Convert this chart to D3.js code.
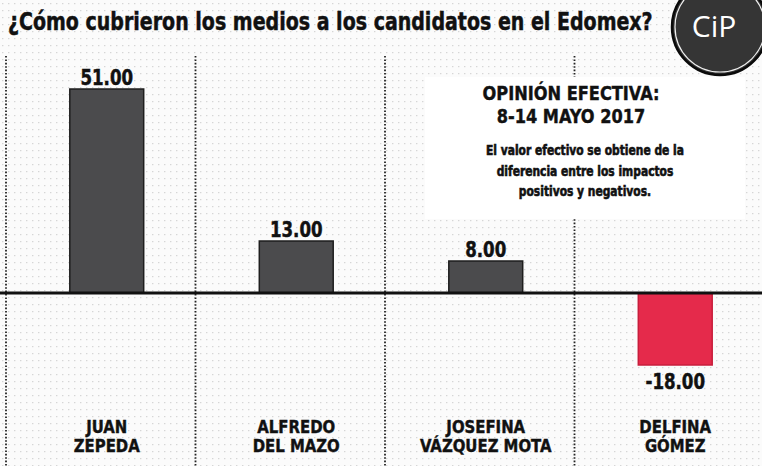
<!DOCTYPE html>
<html><head><meta charset="utf-8">
<script src="https://cdn.jsdelivr.net/npm/d3@7"></script>
<style>
html,body{margin:0;padding:0;background:#fff;}
svg{display:block;}
.cond{font-family:"Liberation Sans Narrow","DejaVu Sans Condensed","Roboto",sans-serif;font-weight:bold;}
</style></head>
<body>
<svg id="chart" width="762" height="466"></svg>
<script>
const categories = ["JUAN ZEPEDA","ALFREDO DEL MAZO","JOSEFINA VÁZQUEZ MOTA","DELFINA GÓMEZ"];
const labelLine1 = ["JUAN","ALFREDO","JOSEFINA","DELFINA"];
const labelLine2 = ["ZEPEDA","DEL MAZO","VÁZQUEZ MOTA","GÓMEZ"];
const values = [51, 13, 8, -18];
const title = "¿Cómo cubrieron los medios a los candidatos en el Edomex?";
const noteTitle = ["OPINIÓN EFECTIVA:", "8-14 MAYO 2017"];
const noteBody = ["El valor efectivo se obtiene de la", "diferencia entre los impactos", "positivos y negativos."];

const svg = d3.select("#chart");
const W = 762, H = 466;

function squeeze(sel, k) {
  sel.each(function(){
    const l = this.getComputedTextLength();
    if (l > 0) { this.setAttribute("textLength", (l * k).toFixed(1)); this.setAttribute("lengthAdjust", "spacingAndGlyphs"); }
  });
}

// dotted background texture
const defs = svg.append("defs");
const pat = defs.append("pattern").attr("id","dots").attr("width",6).attr("height",7)
  .attr("patternUnits","userSpaceOnUse");
pat.append("rect").attr("width",6).attr("height",7).attr("fill","#fbfbfb");
pat.append("rect").attr("x",2).attr("y",3).attr("width",1.4).attr("height",1.2).attr("fill","#d6d6d6");
svg.append("rect").attr("width",W).attr("height",H).attr("fill","url(#dots)");

const x = d3.scaleBand().domain(categories).range([12, 770]).paddingInner(0).paddingOuter(0);
const y = d3.scaleLinear().domain([-18, 51]).range([365, 89]);
const barW = x.bandwidth() * 0.39;
const cx = d => x(d) + x.bandwidth() / 2;

// separators
svg.append("g").selectAll("line").data(categories).join("line")
  .attr("x1", d => x(d) - 6).attr("x2", d => x(d) - 6)
  .attr("y1", 56).attr("y2", H)
  .attr("stroke", "#222").attr("stroke-width", 1.8).attr("stroke-dasharray", "1.6,1.8");

// note box (white background)
svg.append("rect").attr("x", 425).attr("y", 77).attr("width", 320).attr("height", 142).attr("fill", "#fff");

// bars
svg.append("g").selectAll("rect").data(values).join("rect")
  .attr("x", (d,i) => cx(categories[i]) - barW/2)
  .attr("y", d => y(Math.max(0, d)))
  .attr("width", barW)
  .attr("height", d => Math.abs(y(d) - y(0)))
  .attr("fill", d => d < 0 ? "#e52a4b" : "#4b4b4d")
  .attr("stroke", d => d < 0 ? "#c81e3c" : "#1e1e1e")
  .attr("stroke-width", 1.5);

// zero line
svg.append("line").attr("x1", 0).attr("x2", W).attr("y1", y(0)).attr("y2", y(0))
  .attr("stroke", "#111").attr("stroke-width", 3);

// value labels
const vl = svg.append("g").selectAll("text").data(values).join("text")
  .attr("class", "cond")
  .attr("x", (d,i) => cx(categories[i]))
  .attr("y", d => d >= 0 ? y(d) - 4 : y(d) + 24)
  .attr("text-anchor", "middle")
  .attr("font-size", 22)
  .attr("fill", "#111")
  .attr("stroke", "#111").attr("stroke-width", 0.5)
  .text(d => d3.format(".2f")(d).replace("\u2212", "-"));
squeeze(vl, 0.84);

// category labels
const lab = svg.append("g");
const l1 = lab.selectAll("text.l1").data(labelLine1).join("text").attr("class","cond l1")
  .attr("x", (d,i) => cx(categories[i])).attr("y", 433)
  .attr("text-anchor","middle").attr("font-size", 18).attr("fill","#111")
  .attr("stroke","#111").attr("stroke-width",0.4).text(d => d);
const l2 = lab.selectAll("text.l2").data(labelLine2).join("text").attr("class","cond l2")
  .attr("x", (d,i) => cx(categories[i])).attr("y", 452)
  .attr("text-anchor","middle").attr("font-size", 18).attr("fill","#111")
  .attr("stroke","#111").attr("stroke-width",0.4).text(d => d);
squeeze(l1, 0.92); squeeze(l2, 0.92);

// note text
const nt = svg.append("g").selectAll("text").data(noteTitle).join("text").attr("class","cond")
  .attr("x", 571).attr("y", (d,i) => 100 + i*23)
  .attr("text-anchor","middle").attr("font-size", 20).attr("fill","#111")
  .attr("stroke","#111").attr("stroke-width",0.4).text(d => d);
squeeze(nt, 0.9);
const nb = svg.append("g").selectAll("text").data(noteBody).join("text").attr("class","cond")
  .attr("x", 585).attr("y", (d,i) => 155 + i*20.5)
  .attr("text-anchor","middle").attr("font-size", 14).attr("fill","#111")
  .attr("stroke","#111").attr("stroke-width",0.6).text(d => d);
squeeze(nb, 0.85);

// title: size to natural width, stretched vertically
const tg = svg.append("g").attr("transform", "translate(8,30)");
const tt = tg.append("text").attr("class","cond").attr("x", 0).attr("y", 0)
  .attr("font-size", 25).attr("fill","#111").attr("stroke","#111").attr("stroke-width",0.4).text(title);
const natural = tt.node().getComputedTextLength();
const fs = 25 * 645 / natural;
tt.attr("font-size", fs);
tg.attr("transform", `translate(8,30) scale(1,${(24.5 / fs).toFixed(3)})`);

// logo
const logo = svg.append("g");
logo.append("circle").attr("cx", 720).attr("cy", 27).attr("r", 48).attr("fill", "#353535")
  .attr("stroke", "#0a0a0a").attr("stroke-width", 2.5);
logo.append("circle").attr("cx", 720).attr("cy", 27).attr("r", 45).attr("fill", "none")
  .attr("stroke", "#f0f0f0").attr("stroke-width", 1.2);
logo.append("text").attr("x", 714).attr("y", 37).attr("text-anchor","middle")
  .attr("font-family", "'Open Sans', sans-serif").attr("font-size", 30).attr("fill", "#fff")
  .text("CiP");
</script>
</body></html>
